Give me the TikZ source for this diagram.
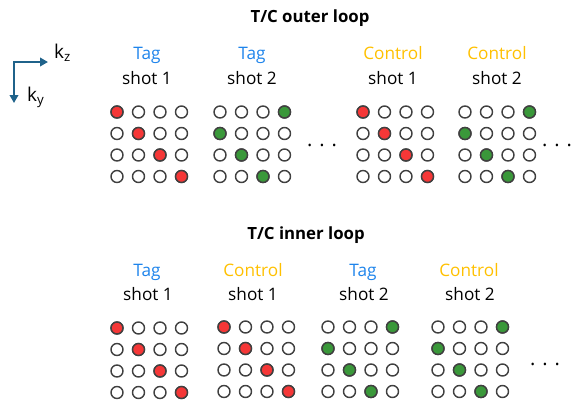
\documentclass[tikz,border=0pt]{standalone}
\usepackage{fontspec}
\setmainfont{Open Sans}
\usetikzlibrary{arrows.meta}

\definecolor{tagblue}{RGB}{30,132,235}
\definecolor{ctrlgold}{RGB}{255,192,0}
\definecolor{hitred}{RGB}{245,55,55}
\definecolor{hitgreen}{RGB}{58,152,58}
\definecolor{axisblue}{RGB}{31,98,138}
\definecolor{ringgray}{RGB}{64,64,64}

\tikzset{
  ring/.style={draw=ringgray, line width=1.4pt, fill=white},
  lbl/.style={anchor=base, inner sep=0pt, font=\fontsize{17.2}{19}\selectfont},
  tag/.style={lbl, text=tagblue},
  ctrl/.style={lbl, text=ctrlgold},
  title/.style={anchor=base, inner sep=0pt, font=\fontsize{16.8}{19}\selectfont\bfseries},
  more/.style={anchor=base, inner sep=0pt, font=\fontsize{20}{22}\selectfont}
}

\begin{document}
\begin{tikzpicture}[x=1pt, y=-1pt, line cap=round, line join=round]
  \useasboundingbox (0,0) rectangle (571,407);

  % k-space axes
  \coordinate (origin) at (14,62);
  \coordinate (kzend) at (48,62);
  \coordinate (kyend) at (14,103);
  \draw[axisblue, line width=2.3pt, line cap=butt, line join=miter,
        {Triangle[length=8pt,width=8.5pt]}-{Triangle[length=8pt,width=8.5pt]}]
    (kyend) -- (origin) -- (kzend);
  \node[lbl, anchor=base west, font=\fontsize{19}{21}\selectfont] (kz) at (54,58.5) {k\textsubscript{z}};
  \node[lbl, anchor=base west, font=\fontsize{19}{21}\selectfont] (ky) at (27,101.5) {k\textsubscript{y}};

  % A. outer loop
  \node[title] (outer) at (310,22) {T/C outer loop};
  \node[tag]  (oTag1)  at (147,59.5) {Tag};
  \node[lbl]  (oShot1) at (147,84) {shot 1};
  \node[tag]  (oTag2)  at (252,59.5) {Tag};
  \node[lbl]  (oShot2) at (252,84) {shot 2};
  \node[ctrl] (oCtrl1) at (393,59.5) {Control};
  \node[lbl]  (oShot3) at (393,84) {shot 1};
  \node[ctrl] (oCtrl2) at (497,59.5) {Control};
  \node[lbl]  (oShot4) at (497,84) {shot 2};
  \node[more] (oMoreA) at (322,146.5) {. . .};
  \node[more] (oMoreB) at (557,146.5) {. . .};

  % B. inner loop
  \node[title] (inner) at (306,239.5) {T/C inner loop};
  \node[tag]  (iTag1)  at (147,276) {Tag};
  \node[lbl]  (iShot1) at (148,300.5) {shot 1};
  \node[ctrl] (iCtrl1) at (253,276) {Control};
  \node[lbl]  (iShot2) at (253,300.5) {shot 1};
  \node[tag]  (iTag2)  at (363,276) {Tag};
  \node[lbl]  (iShot3) at (364,300.5) {shot 2};
  \node[ctrl] (iCtrl2) at (469,276) {Control};
  \node[lbl]  (iShot4) at (470,300.5) {shot 2};
  \node[more] (iMore)  at (545,365) {. . .};

  % 4x4 sampling grids: top-left dot, hit colour, column shift of the hit
  \foreach \gx/\gy/\hc/\sh in {117/112/hitred/0, 220/112/hitgreen/3,
                               363/112/hitred/0, 465/112/hitgreen/3,
                               117/328/hitred/0, 224/327/hitred/0,
                               328/327/hitgreen/3, 438/327/hitgreen/3} {
    \begin{scope}[shift={(\gx,\gy)}]
      \foreach \r in {0,...,3} {
        \foreach \c in {0,...,3} {
          \draw[ring] ({\c*21.5},{\r*21.5}) circle (6pt);
        }
        \draw[ring, fill=\hc] ({mod(\r+\sh,4)*21.5},{\r*21.5}) circle (6pt);
      }
    \end{scope}
  }
\end{tikzpicture}
\end{document}
